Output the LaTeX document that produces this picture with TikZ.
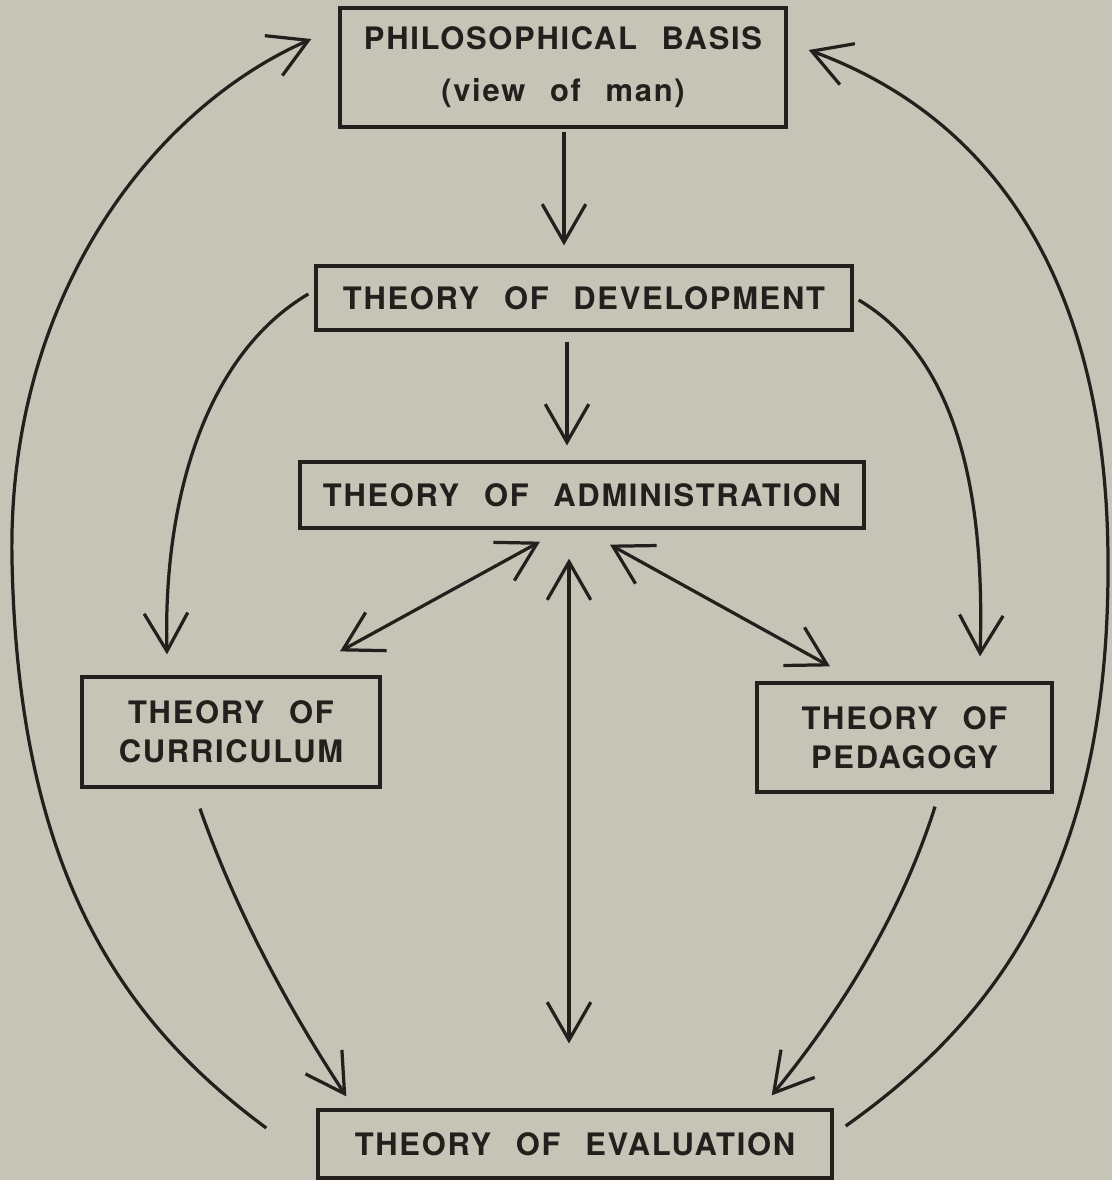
\documentclass[tikz,border=0pt]{standalone}
\usepackage{fontspec}
\usepackage{tikz}
\usetikzlibrary{calc,arrows.meta}
\newfontfamily\leroyfont[LetterSpace=5.5,WordSpace=2.4]{TeX Gyre Heros}
\definecolor{paper}{RGB}{198,195,183}
\definecolor{ink}{RGB}{35,31,28}

\begin{document}
\begin{tikzpicture}[x=0.025cm, y=-0.025cm,
    box/.style={draw=ink, line width=2.3pt, text=ink, align=center, inner sep=0pt,
                font=\leroyfont\bfseries\fontsize{22}{28}\selectfont},
    arr/.style={draw=ink, line width=2.3pt, -{Straight Barb[length=27pt,width=31pt]}},
    dblarr/.style={arr, {Straight Barb[length=27pt,width=31pt]}-{Straight Barb[length=27pt,width=31pt]}}]
  % Paper
  \fill[paper] (0,0) rectangle (1112,1180);
  \useasboundingbox (0,0) rectangle (1112,1180);

  % Boxes
  \node[box, minimum width=11.15cm, minimum height=2.975cm] (phil) at (563,67.5)
    {PHILOSOPHICAL BASIS\\[9pt](view of man)};
  \node[box, minimum width=13.4cm, minimum height=1.6cm] (dev) at (584,298) {THEORY OF DEVELOPMENT};
  \node[box, minimum width=14.1cm, minimum height=1.65cm] (admin) at (582,495) {THEORY OF ADMINISTRATION};
  \node[box, minimum width=7.45cm, minimum height=2.75cm] (curr) at (231,732) {THEORY OF\\CURRICULUM};
  \node[box, minimum width=7.375cm, minimum height=2.725cm] (ped) at (904.5,737.5) {THEORY OF\\PEDAGOGY};
  \node[box, minimum width=12.85cm, minimum height=1.7cm] (eval) at (575,1144) {THEORY OF EVALUATION};

  % Straight arrows down the middle
  \draw[arr] ($(phil.south)+(1,3)$) -- ($(phil.south |- dev.north)+(1,-19)$);
  \draw[arr] ($(dev.south)+(-17,10)$) -- ($(dev.south |- admin.north)+(-17,-15)$);

  % Two-way arrows from administration
  \draw[dblarr] ($(curr.north)+(109,-24)$) -- ($(admin.south)+(-42,12)$);
  \draw[dblarr] ($(eval.north)+(-6,-65)$) -- ($(admin.south)+(-13,29)$);
  \draw[dblarr] ($(ped.north)+(-74.5,-15)$) -- ($(admin.south)+(28,15)$);

  % Development to curriculum and pedagogy
  \draw[arr] ($(dev.west)+(-6,-4)$) .. controls (205,355) and (163,500) .. ($(curr.north)+(-64,-21)$);
  \draw[arr] ($(dev.east)+(5,2)$) .. controls (960,360) and (985,500) .. ($(ped.north)+(75.5,-25)$);

  % Curriculum and pedagogy to evaluation
  \draw[arr] ($(curr.south)+(-31,20)$) .. controls (233,903) and (283,1000) .. ($(eval.north west)+(30,-12)$);
  \draw[arr] ($(ped.south)+(30.5,13)$) .. controls (905,902) and (850,1000) .. ($(eval.north east)+(-62,-13)$);

  % Feedback loops back to the basis
  \coordinate (leftmid) at (12,560);
  \coordinate (rightmid) at (1108,560);
  \draw[arr] ($(eval.west)+(-50,-16)$) .. controls (120,1020) and (18,870) .. (leftmid)
    .. controls (7,300) and (150,110) .. ($(phil.west)+(-27,-28.5)$);
  \draw[arr] ($(eval.east)+(12,-18)$) .. controls (995,1020) and (1110,870) .. (rightmid)
    .. controls (1107,290) and (1000,120) .. ($(phil.east)+(21,-17.5)$);
\end{tikzpicture}
\end{document}
